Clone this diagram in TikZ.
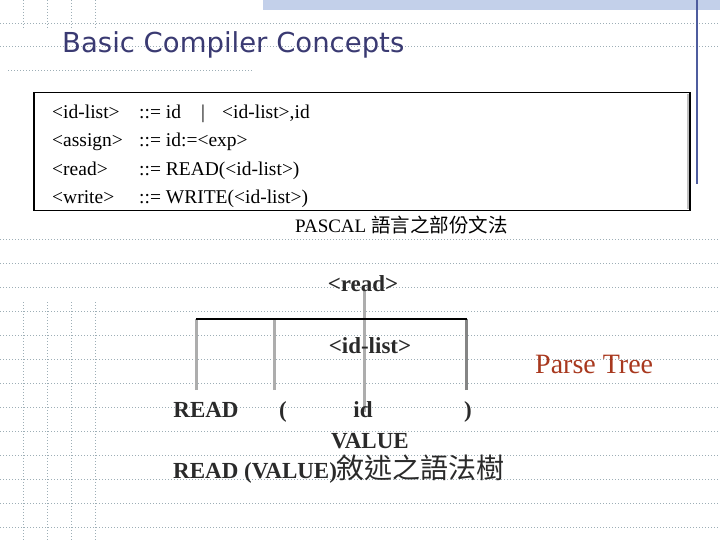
\documentclass[tikz,border=0pt]{standalone}
\usepackage{fontspec}
\setmainfont{Liberation Serif}
\newfontfamily\titlefont{DejaVu Sans}
\newfontfamily\cjk{Noto Sans CJK TC}
\usetikzlibrary{positioning}
\definecolor{titleblue}{HTML}{3A3A72}
\definecolor{gridgrey}{HTML}{9DAEB6}
\definecolor{bandblue}{HTML}{C3D0EA}
\definecolor{ruleblue}{HTML}{4E5C9E}
\definecolor{treegrey}{HTML}{ADADAD}
\definecolor{treedark}{HTML}{858585}
\definecolor{parsered}{HTML}{A8381E}
\definecolor{treetext}{HTML}{2A2A2A}
\pgfdeclarelayer{gridlayer}
\pgfdeclarelayer{treelayer}
\pgfsetlayers{gridlayer,treelayer,main}
\tikzset{
  gridline/.style={draw=gridgrey, line width=0.8pt, dash pattern=on 0.8pt off 2.2pt},
  grammar/.style={anchor=base west, inner sep=0pt, font=\fontsize{19.5}{22}\selectfont},
  treelabel/.style={anchor=base, inner sep=0pt, font=\fontsize{23}{26}\selectfont\bfseries, text=treetext},
  branch/.style={draw=#1, line width=3pt},
}

\begin{document}
\begin{tikzpicture}[x=1pt, y=-1pt]
  \useasboundingbox (0,0) rectangle (720,540);

  %% Slide background
  \begin{pgfonlayer}{gridlayer}
    \fill[bandblue] (263,0) rectangle (720,10);
    \draw[gridline] (0,23) -- (720,23);
    \draw[gridline] (0,46) -- (720,46);
    \draw[gridline] (8,70) -- (253,70);
    \foreach \y in {239,263,...,528}
      \draw[gridline] (0,\y) -- (720,\y);
    \foreach \x in {23,47,71,95} {
      \draw[gridline] (\x,0) -- (\x,28);
      \draw[gridline] (\x,302) -- (\x,540);
    }
    \draw[ruleblue, line width=1.3pt] (697,0) -- (697,184);
  \end{pgfonlayer}

  %% Title
  \node[anchor=base west, inner sep=0pt, text=titleblue,
        font=\titlefont\fontsize{27.5}{30}\selectfont] (title) at (62,53) {Basic Compiler Concepts};

  %% Grammar box
  \node[draw, line width=1.5pt, fill=white, anchor=north west,
        minimum width=656pt, minimum height=118pt] (gbox) at (33,92) {};
  \draw[black!25, line width=1.5pt] ([xshift=-2.5pt,yshift=-2pt]gbox.north east) -- ([xshift=-2.5pt,yshift=2pt]gbox.south east);

  \node[grammar] (lhs1) at (52,119) {<id-list>};
  \node[grammar] (lhs2) at (52,147) {<assign>};
  \node[grammar] (lhs3) at (52,176) {<read>};
  \node[grammar] (lhs4) at (52,204) {<write>};
  \node[grammar] (rhs1) at (139,119) {::= id};
  \node[grammar] (bar1) at (201,119) {|};
  \node[grammar] (alt1) at (222,119) {<id-list>,id};
  \node[grammar] (rhs2) at (139,147) {::= id:=<exp>};
  \node[grammar] (rhs3) at (139,176) {::= READ(<id-list>)};
  \node[grammar] (rhs4) at (139,204) {::= WRITE(<id-list>)};

  \node[anchor=base west, inner sep=0pt, font=\fontsize{19}{22}\selectfont] (cap1) at (295,233)
    {PASCAL {\cjk\fontsize{19.5}{22}\selectfont 語言之部份文法}};

  %% Parse tree labels
  \node[treelabel] (read) at (363,291) {<read>};
  \node[treelabel] (idlist) at (370,353) {<id-list>};
  \node[treelabel] (kw) at (206,417) {READ};
  \node[treelabel] (lp) at (283,417) {(};
  \node[treelabel] (id) at (363,417) {id};
  \node[treelabel] (rp) at (468,417) {)};
  \node[treelabel] (value) at (370,448) {VALUE};
  \node[treelabel, anchor=base west] (cap2) at (173,478)
    {READ (VALUE){\cjk\mdseries\fontsize{28}{30}\selectfont 敘述之語法樹}};

  \node[anchor=base west, inner sep=0pt, text=parsered,
        font=\fontsize{28}{30}\selectfont] (ptree) at (535,373) {Parse Tree};

  %% Tree branches
  \coordinate (barl) at (196,319);
  \coordinate (barr) at (467,319);
  \coordinate (legA) at (196,390);
  \coordinate (legB) at (274,390);
  \coordinate (legC) at (466,390);
  \coordinate (stem) at (364,412);
  \begin{pgfonlayer}{treelayer}
    \draw[branch=treegrey] (legA) -- (legA |- barl);
    \draw[branch=treegrey] (legB) -- (legB |- barl);
    \draw[branch=treedark] (legC) -- (legC |- barl);
    \draw[branch=treegrey] (stem |- read.south) -- (stem);
    \draw[black, line width=1.3pt] (barl) -- (barr);
  \end{pgfonlayer}

\end{tikzpicture}
\end{document}
